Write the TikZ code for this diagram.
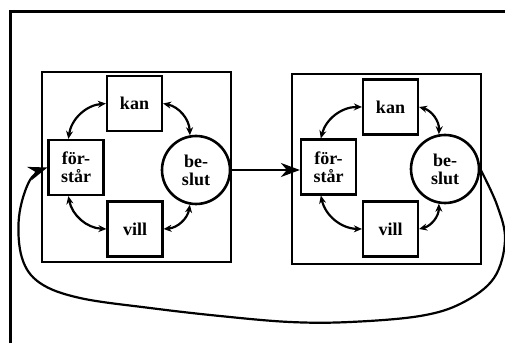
\documentclass[tikz,border=0pt]{standalone}
\usepackage{fontspec}
\setmainfont{Liberation Serif}
\usetikzlibrary{arrows.meta}
\tikzset{
  part/.style={draw, line width=2.2pt, minimum width=55pt, minimum height=55pt,
    inner sep=0pt, align=center, font=\bfseries\fontsize{18}{18}\selectfont},
  ring/.style={draw, circle, line width=2.6pt, minimum size=68pt,
    inner sep=0pt, align=center, font=\bfseries\fontsize{18}{18}\selectfont},
  unit/.style={draw, line width=2.2pt, minimum width=189pt, minimum height=190pt},
  link/.style={line width=2.2pt, {Stealth[length=8pt,width=7pt]}-{Stealth[length=8pt,width=7pt]}},
  flow/.style={line width=2.2pt, -{Stealth[length=19pt,width=14pt,inset=6pt]}}
}
\begin{document}
\begin{tikzpicture}[x=1pt,y=1pt]
\useasboundingbox (0,0) rectangle (505,345);
\draw[line width=3pt] (10,2)--(10,333)--(505,333);
% first unit
\node[unit] (unitA) at (136.5,178) {};
\node[part] (kanA) at (134.5,241.5) {kan};
\node[part] (fsA) at (76,177.5) {för-\\står};
\node[ring] (besA) at (196,175) {be-\\slut};
\node[part] (villA) at (135,116) {vill};
\draw[link] (fsA.105) to[bend left=38] (kanA.west);
\draw[link] (kanA.east) to[bend left=38] (besA.100);
\draw[link] (besA.260) to[bend left=38] (villA.east);
\draw[link] (villA.west) to[bend left=38] (fsA.255);
% second unit
\node[unit] (unitB) at (386.5,176) {};
\node[part] (kanB) at (390.5,238) {kan};
\node[part] (fsB) at (328.5,178) {för-\\står};
\node[ring] (besB) at (445,176) {be-\\slut};
\node[part] (villB) at (390.5,116) {vill};
\draw[link] (fsB.105) to[bend left=38] (kanB.west);
\draw[link] (kanB.east) to[bend left=38] (besB.100);
\draw[link] (besB.260) to[bend left=38] (villB.east);
\draw[link] (villB.west) to[bend left=38] (fsB.255);
% from one unit to the next, and back
\draw[flow] (besA.east) -- (besA.east -| fsB.west);
\draw[flow] plot[smooth, tension=0.6] coordinates {(besB.east) (497,140) (505,105)
  (494,67) (462,42) (420,29) (350,23) (290,23) (220,29) (150,37) (80,47)
  (40,62) (22,87) (19,128) (30,165) (fsA.west)};
\end{tikzpicture}
\end{document}
